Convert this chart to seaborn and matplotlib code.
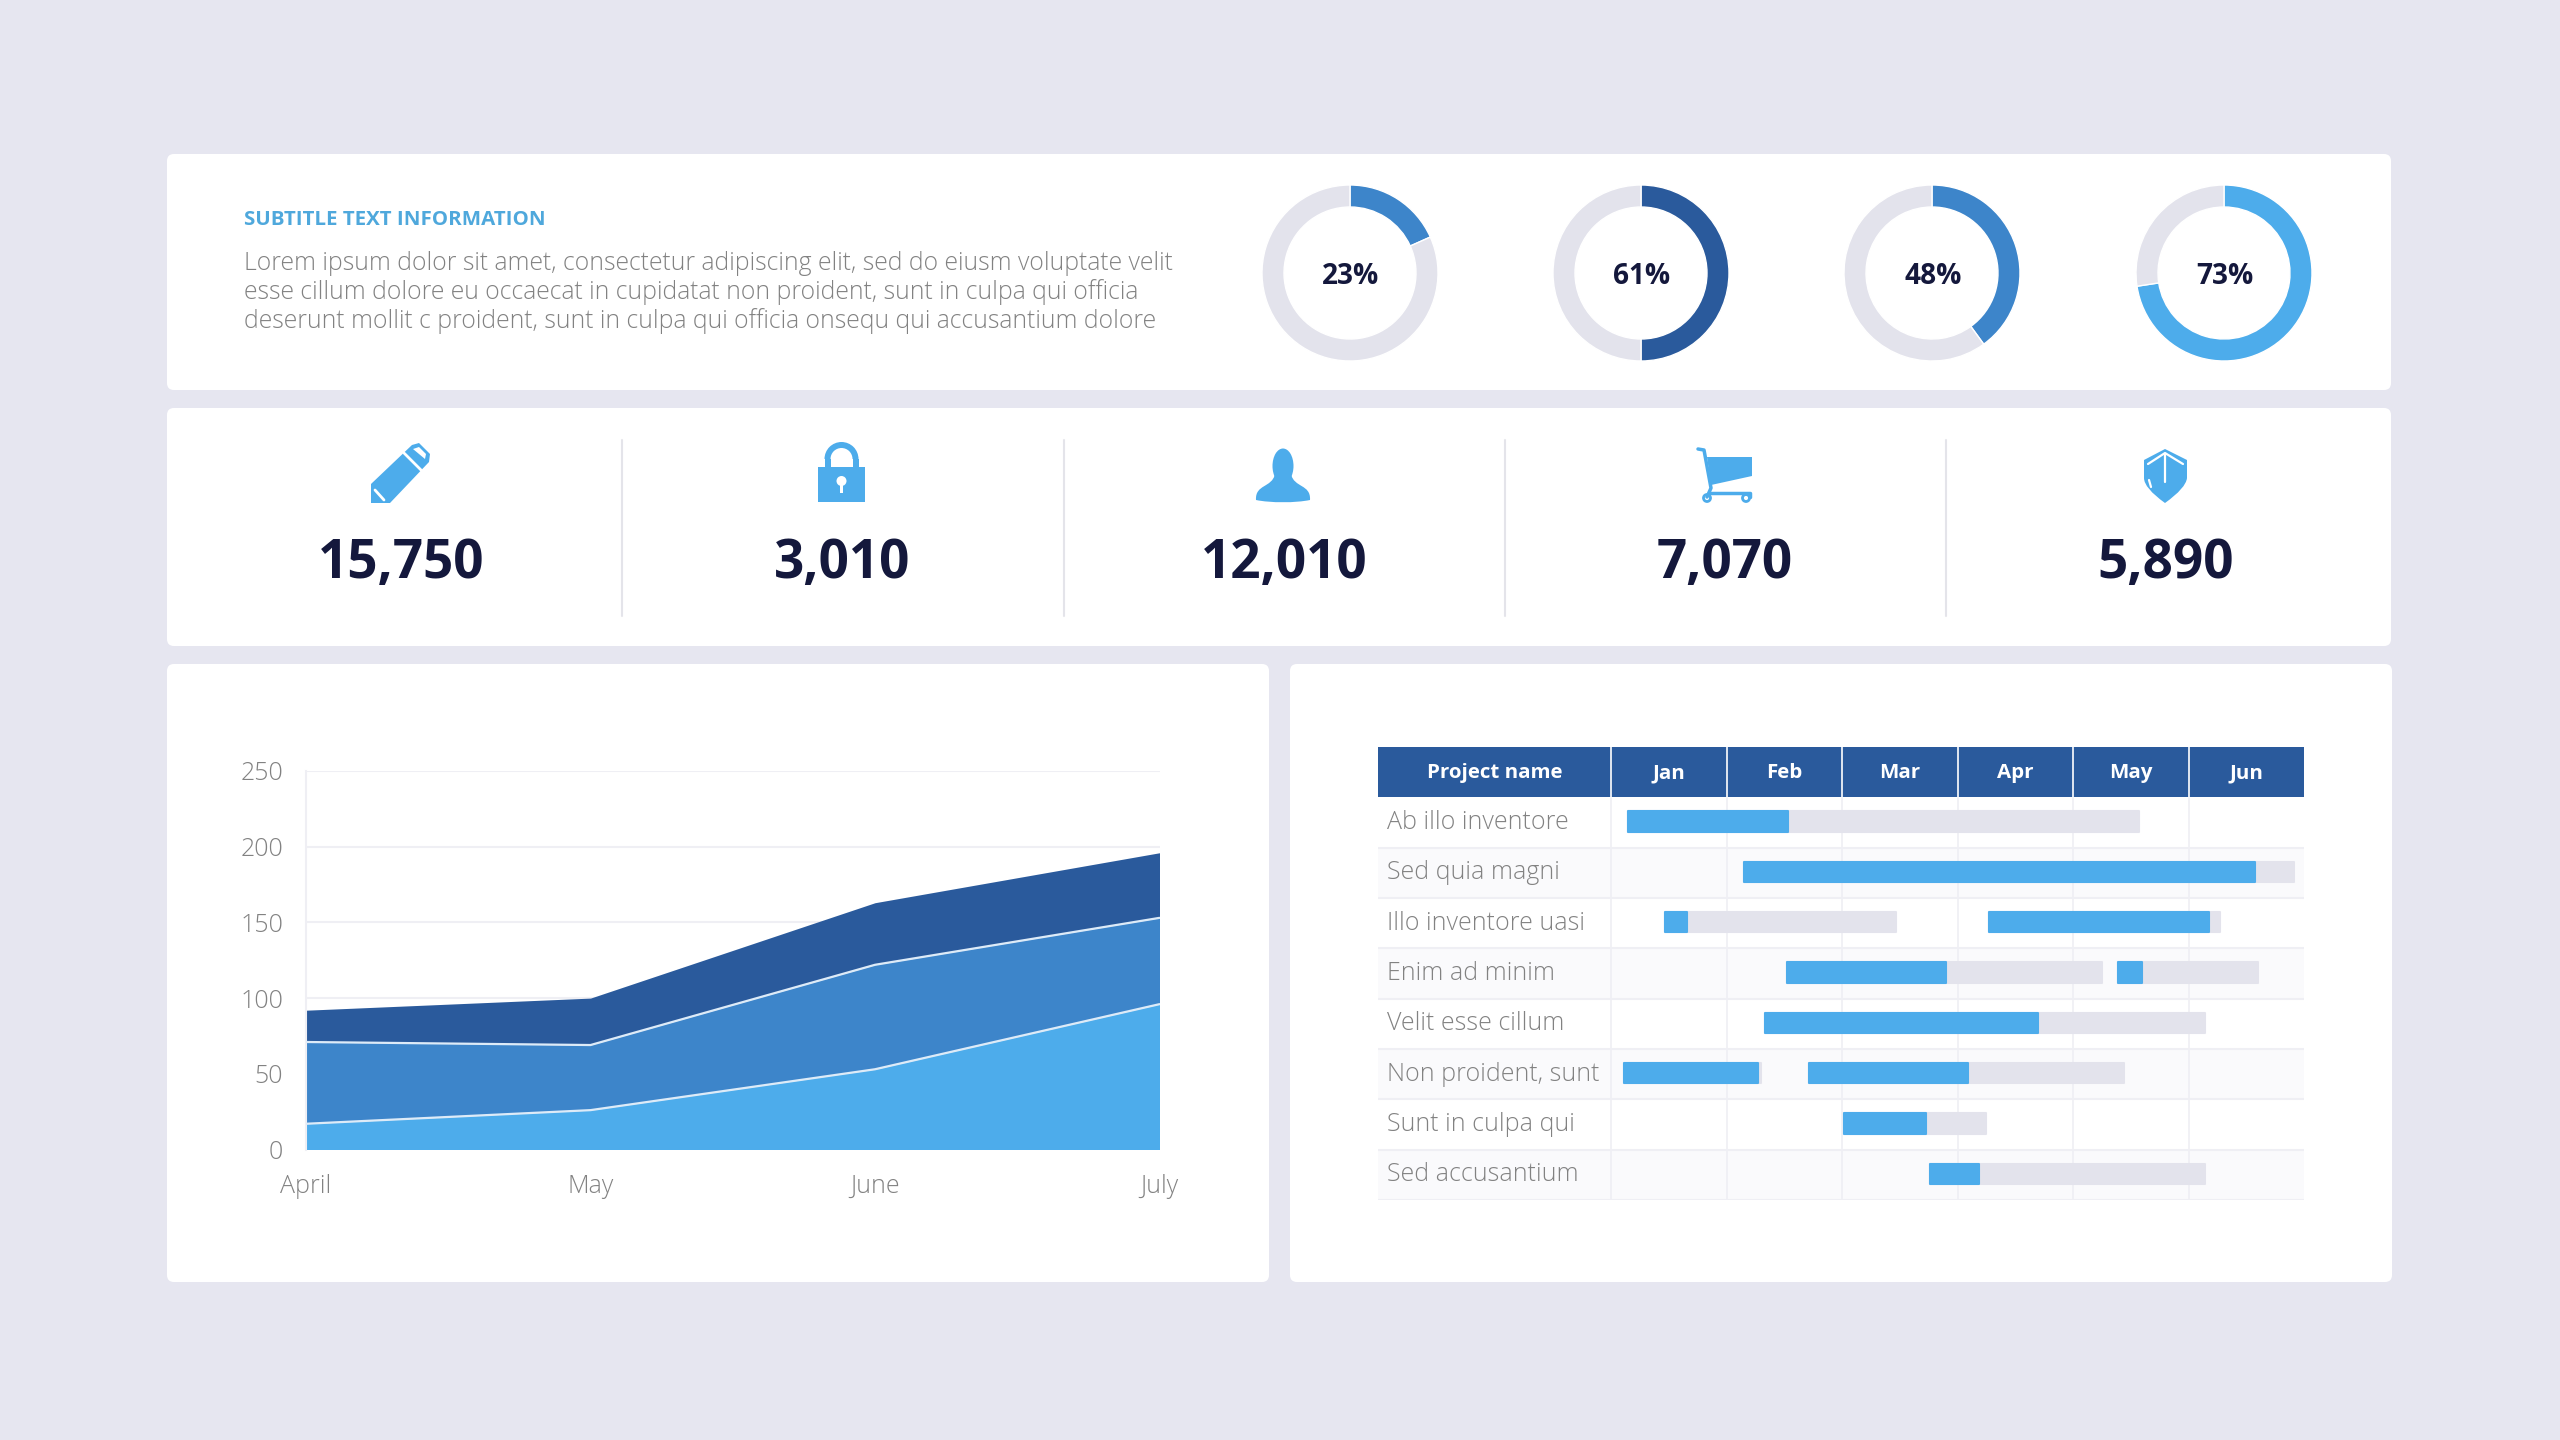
import matplotlib
matplotlib.use("Agg")
import matplotlib.pyplot as plt
from matplotlib.patches import Circle, Ellipse, FancyBboxPatch, PathPatch, Polygon, Rectangle, Wedge
from matplotlib.path import Path
import seaborn as sns

BG = "#E6E6F0"
LIGHT = "#4DACEB"
MID = "#3D85CA"
DARK = "#2A5A9C"
TRACK = "#E3E3EC"
INK = "#14183C"
GREY = "#828282"
LINE = "#EFEFF4"

# top row
subtitle = "SUBTITLE TEXT INFORMATION"
body_lines = [
    "Lorem ipsum dolor sit amet, consectetur adipiscing elit, sed do eiusm voluptate velit",
    "esse cillum dolore eu occaecat in cupidatat non proident, sunt in culpa qui officia",
    "deserunt mollit c proident, sunt in culpa qui officia onsequ qui accusantium dolore",
]
donut_labels = ["23%", "61%", "48%", "73%"]
donut_fill = [18.3, 50, 40, 72.6]
donut_colors = [MID, DARK, MID, LIGHT]

# kpi row
kpi_values = ["15,750", "3,010", "12,010", "7,070", "5,890"]

# area chart (stacked from the bottom)
area_months = ["April", "May", "June", "July"]
area_bottom = [17, 26, 53, 96]
area_middle = [54, 43, 69, 57]
area_top = [21, 31, 41, 43]
area_yticks = [0, 50, 100, 150, 200, 250]

# gantt, times in months from start of Jan
gantt_months = ["Jan", "Feb", "Mar", "Apr", "May", "Jun"]
gantt_names = [
    "Ab illo inventore", "Sed quia magni", "Illo inventore uasi", "Enim ad minim",
    "Velit esse cillum", "Non proident, sunt", "Sunt in culpa qui", "Sed accusantium",
]
gantt_row = [0, 1, 2, 2, 3, 3, 4, 5, 5, 6, 7]
gantt_start = [0.15, 1.15, 0.47, 3.27, 1.52, 4.39, 1.33, 0.11, 1.71, 2.02, 2.76]
gantt_done = [1.53, 5.58, 0.66, 5.18, 2.90, 4.60, 3.70, 1.27, 3.09, 2.73, 3.19]
gantt_end = [4.57, 5.91, 2.47, 5.27, 4.25, 5.60, 5.14, 1.30, 4.44, 3.25, 5.14]

sns.set_theme(style="white")
plt.rcParams["font.family"] = ["Open Sans", "DejaVu Sans"]

W, H = 2560, 1440
fig = plt.figure(figsize=(25.6, 14.4), dpi=100, facecolor=BG)


def axes_px(x0, y0, x1, y1):
    a = fig.add_axes([x0 / W, 1 - y1 / H, (x1 - x0) / W, (y1 - y0) / H])
    a.patch.set_alpha(0)
    return a


def pt(px):
    return px * 0.72


# page layer in pixel coordinates
page = fig.add_axes([0, 0, 1, 1])
page.set_xlim(0, W)
page.set_ylim(H, 0)
page.axis("off")

for x0, y0, x1, y1 in [
    (167, 154, 2391, 390), (167, 408, 2391, 646),
    (167, 664, 1269, 1282), (1290, 664, 2392, 1282),
]:
    page.add_patch(FancyBboxPatch((x0 + 7, y0 + 7), x1 - x0 - 14, y1 - y0 - 14,
                                  boxstyle="round,pad=7,rounding_size=7", fc="white", ec="none"))

page.text(244, 220, subtitle, color="#4FA8DC", fontsize=pt(20.5), fontweight="bold",
          va="center", ha="left")
for y, line in zip([264, 292, 321], body_lines):
    page.text(244, y, line, color=GREY, fontsize=pt(24.8), fontweight="light", va="center", ha="left")

# donuts
for cx, label, fill, col in zip([1350, 1641, 1932, 2224], donut_labels, donut_fill, donut_colors):
    ax = axes_px(cx - 96, 273 - 96, cx + 96, 273 + 96)
    ax.pie([fill, 100 - fill], colors=[col, TRACK], startangle=90, counterclock=False,
           radius=88, wedgeprops={"width": 22})
    ax.set_xlim(-96, 96)
    ax.set_ylim(-96, 96)
    ax.text(1, -3, label, color=INK, fontsize=pt(28), fontweight="bold", ha="center", va="center")

# kpis
for cx, val in zip([401, 842, 1284, 1725, 2166], kpi_values):
    page.text(cx, 564, val, color=INK, fontsize=pt(53), fontweight="bold", ha="center", va="center")
for x in [622, 1064, 1505, 1946]:
    page.plot([x, x], [440, 616], color="#E4E4EA", lw=1.5)

# icons
# pencil
page.add_patch(Polygon([(371, 503), (371, 484), (412, 445), (419, 443), (430, 454), (429, 462), (390, 503)],
                       fc=LIGHT, ec="none"))
page.plot([404, 423], [453, 472], color="white", lw=2)
page.add_patch(Polygon([(413, 449), (419, 447), (426, 454), (425, 459)], fc="white", ec="none"))
page.plot([375, 384], [490, 500], color="white", lw=2)
# lock
page.add_patch(Wedge((841.5, 459), 17, 180, 360, width=6, fc=LIGHT, ec="none"))
page.add_patch(Rectangle((824.5, 459), 6, 9, fc=LIGHT, ec="none"))
page.add_patch(Rectangle((852.5, 459), 6, 9, fc=LIGHT, ec="none"))
page.add_patch(Rectangle((818, 467), 47, 35, fc=LIGHT, ec="none"))
page.add_patch(Circle((841.5, 481), 5, fc="white", ec="none"))
page.add_patch(Rectangle((840, 481), 3, 12, fc="white", ec="none"))
# person
page.add_patch(Ellipse((1283, 466), 21, 35, fc=LIGHT, ec="none"))
page.add_patch(PathPatch(Path(
    [(1256, 500), (1255, 484), (1272, 488), (1275, 474), (1283, 474), (1291, 474),
     (1294, 488), (1311, 484), (1310, 500), (1296, 503), (1270, 503), (1256, 500)],
    [Path.MOVETO] + [Path.CURVE4] * 3 + [Path.LINETO] * 2 + [Path.CURVE4] * 3 + [Path.CURVE4] * 3),
    fc=LIGHT, ec="none"))
# cart
page.add_patch(Polygon([(1707, 457), (1752, 457), (1752, 476), (1711, 485)], fc=LIGHT, ec="none"))
page.plot([1698, 1704, 1711, 1707], [449, 450, 488, 497], color=LIGHT, lw=2.5)
page.plot([1709, 1750, 1750], [493, 493, 497], color=LIGHT, lw=2.5)
for x in [1707, 1746]:
    page.add_patch(Circle((x, 498), 3.5, fc="white", ec=LIGHT, lw=2))
# shield
page.add_patch(PathPatch(Path(
    [(2165, 449), (2187, 460), (2187, 478), (2186, 488), (2165, 503),
     (2144, 488), (2144, 478), (2144, 460), (2165, 449)],
    [Path.MOVETO, Path.LINETO, Path.LINETO, Path.CURVE3, Path.CURVE3,
     Path.CURVE3, Path.CURVE3, Path.LINETO, Path.LINETO]), fc=LIGHT, ec="none"))
page.plot([2148, 2165, 2183], [464, 453, 464], color="white", lw=1.6)
page.plot([2165, 2165], [454, 482], color="white", lw=1.6)
page.plot([2149, 2151], [480, 487], color="white", lw=1.6)

# area chart
ax = axes_px(306, 771, 1159.5, 1149.5)
xs = list(range(len(area_months)))
ax.set_xlim(0, 3)
ax.set_ylim(0, 250)
ax.stackplot(xs, area_bottom, area_middle, area_top, colors=[LIGHT, MID, DARK], lw=0, zorder=2)
level1 = area_bottom
level2 = [a + b for a, b in zip(area_bottom, area_middle)]
for level in [level1, level2]:
    sns.lineplot(x=xs, y=level, color="#DDEBF8", lw=1.6, ax=ax, zorder=3, clip_on=True)
ax.set_yticks(area_yticks)
ax.set_xticks(xs)
ax.set_xticklabels(area_months)
ax.grid(axis="y", color=LINE, lw=1.5, zorder=1)
ax.tick_params(axis="both", colors=GREY, labelsize=pt(25), length=pt(9), width=1, color=LINE, pad=10)
ax.tick_params(axis="x", pad=11)
for lab in ax.get_xticklabels() + ax.get_yticklabels():
    lab.set_fontweight("light")
for s in ["top", "right", "bottom"]:
    ax.spines[s].set_visible(False)
ax.spines["left"].set_color(LINE)
ax.spines["left"].set_linewidth(1.5)

# gantt table, name column runs left of Jan on the same month scale
gx = axes_px(1378, 747, 2304, 1200)
name_left = -233 / 115.5
gx.set_xlim(name_left, 6)
gx.set_ylim(8, -1)
gx.axis("off")
for r in range(8):
    if r % 2 == 1:
        gx.axhspan(r, r + 1, color="#FAFAFC", lw=0, zorder=0)
    gx.axhline(r + 1, color=LINE, lw=1.5, zorder=1)
for m in range(6):
    gx.plot([m, m], [0, 8], color=LINE, lw=1.2, zorder=1)
bar_y = [r + 0.48 for r in gantt_row]
gx.barh(bar_y, [e - s for s, e in zip(gantt_start, gantt_end)], left=gantt_start,
        height=0.41, color=TRACK, edgecolor=TRACK, lw=1.5, joinstyle="round", zorder=2)
gx.barh(bar_y, [d - s for s, d in zip(gantt_start, gantt_done)], left=gantt_start,
        height=0.41, color=LIGHT, edgecolor=LIGHT, lw=1.5, joinstyle="round", zorder=3)
gx.axhspan(-1, 0, color=DARK, lw=0, zorder=4)
for m in range(6):
    gx.plot([m, m], [-1, 0], color="white", lw=1.2, zorder=5)
    gx.text(m + 0.5, -0.48, gantt_months[m], color="white", fontsize=pt(20.5), fontweight="bold",
            ha="center", va="center", zorder=6)
gx.text(name_left / 2, -0.48, "Project name", color="white", fontsize=pt(20.5), fontweight="bold",
        ha="center", va="center", zorder=6)
for r, name in enumerate(gantt_names):
    gx.text(name_left + 0.08, r + 0.5, name, color=GREY, fontsize=pt(25), fontweight="light",
            ha="left", va="center", zorder=6)

fig.savefig("out.png", dpi=100, facecolor=BG)
